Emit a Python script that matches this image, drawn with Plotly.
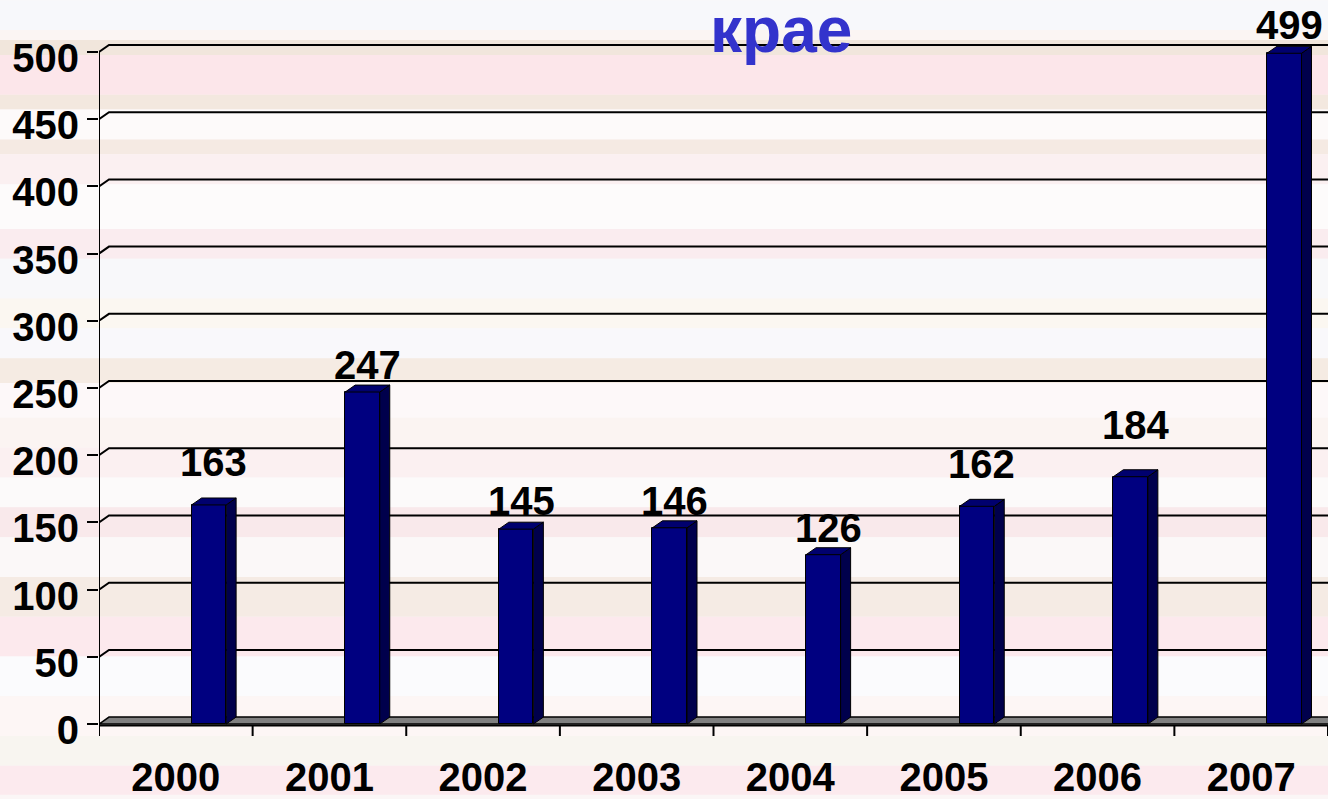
import plotly.graph_objects as go

# data
years = ["2000", "2001", "2002", "2003", "2004", "2005", "2006", "2007"]
values = [163, 247, 145, 146, 126, 162, 184, 499]
y_ticks = [0, 50, 100, 150, 200, 250, 300, 350, 400, 450, 500]
title_text = "крае"

# label lift above each bar's front top, px (labels sit unevenly in the original)
label_lift = [40, 24, 25, 24, 24, 39, 49, 25]

# geometry (pixels -> data units)
W, H = 1328, 799
M_L, M_T, M_B = 99, 40, 59
PX_X = (W - M_L) / 8.0          # px per category
PX_Y = 676 / 500.0              # px per value unit
Y0_PX = 728                     # pixel row of value 0
Y_LO = -(H - M_B - Y0_PX) / PX_Y
Y_HI = (Y0_PX - M_T) / PX_Y
DX = 10 / PX_X                  # 3d depth, x
DY = 7 / PX_Y                   # 3d depth, y
BAR_SHIFT = 0.215
BAR_W = 0.225

NAVY = "#000080"
SIDE = "#00004c"
TOP = "#00006e"
FONT = "Arial, Liberation Sans, sans-serif"

fig = go.Figure()

# front faces
fig.add_trace(go.Bar(
    x=[i + BAR_SHIFT for i in range(len(values))],
    y=values,
    width=BAR_W,
    marker=dict(color=NAVY, line=dict(color="black", width=1)),
    hoverinfo="skip",
    showlegend=False,
))

# side and top faces of the columns
sx, sy, tx, ty = [], [], [], []
for i, v in enumerate(values):
    x0 = i + BAR_SHIFT - BAR_W / 2
    x1 = i + BAR_SHIFT + BAR_W / 2
    sx += [x1, x1 + DX, x1 + DX, x1, x1, None]
    sy += [0, DY, v + DY, v, 0, None]
    tx += [x0, x0 + DX, x1 + DX, x1, x0, None]
    ty += [v, v + DY, v + DY, v, v, None]
fig.add_trace(go.Scatter(x=sx, y=sy, mode="lines", fill="toself", fillcolor=SIDE,
                         line=dict(color="black", width=1), hoverinfo="skip", showlegend=False))
fig.add_trace(go.Scatter(x=tx, y=ty, mode="lines", fill="toself", fillcolor=TOP,
                         line=dict(color="black", width=1), hoverinfo="skip", showlegend=False))

shapes = []

# striped background (pixel rows, colour)
stripes = [
    (0, 30, "#f7f8fb"), (30, 40, "#fbf5f3"), (40, 55, "#f1e6dc"), (55, 95, "#fce6ea"),
    (95, 110, "#f3e8df"), (110, 140, "#fdfafa"), (140, 155, "#f5eae3"), (155, 185, "#fbf0f1"),
    (185, 230, "#fdfbfb"), (230, 260, "#faecef"), (260, 300, "#f8f8fa"), (300, 330, "#fbf7f1"),
    (330, 360, "#f9f8fb"), (360, 385, "#f5ebe3"), (385, 420, "#fdf8f9"), (420, 450, "#fbf4f2"),
    (450, 480, "#fbf0f1"), (480, 510, "#fcfafa"), (510, 540, "#f9e9eb"), (540, 580, "#fbf8f8"),
    (580, 620, "#f5ebe4"), (620, 660, "#fce9ed"), (660, 700, "#fbfbfd"), (700, 740, "#fdf6f5"),
    (740, 770, "#f8f5f0"), (770, 799, "#fceaee"),
]
plot_h = H - M_T - M_B
for a, b, c in stripes:
    shapes.append(dict(type="rect", xref="paper", yref="paper", layer="below",
                       x0=-0.1, x1=1.1,
                       y0=(H - M_B - b) / plot_h, y1=(H - M_B - a) / plot_h,
                       fillcolor=c, line=dict(width=0)))

# back-wall gridlines with the short diagonal from the axis
for v in y_ticks[1:]:
    shapes.append(dict(type="path", layer="below", xref="x", yref="y",
                       path=f"M -0.5,{v} L {-0.5 + DX},{v + DY} L 7.5,{v + DY}",
                       line=dict(color="black", width=2)))

# floor
shapes.append(dict(type="path", layer="below", xref="x", yref="y",
                   path=f"M -0.5,0 L {-0.5 + DX},{DY} L 7.6,{DY} L 7.6,0 Z",
                   fillcolor="#808080", line=dict(color="black", width=1.5)))

# axis lines and category boundary ticks
shapes.append(dict(type="line", xref="x", yref="y", x0=-0.5, x1=-0.5, y0=-9, y1=500,
                   line=dict(color="black", width=2)))
shapes.append(dict(type="line", xref="x", yref="y", x0=-0.5, x1=7.6, y0=-1, y1=-1,
                   line=dict(color="black", width=2)))
for k in range(1, len(years) + 1):
    shapes.append(dict(type="line", xref="x", yref="y", x0=k - 0.5, x1=k - 0.5, y0=-1, y1=-9,
                       line=dict(color="black", width=2)))

annotations = []
for i, v in enumerate(values):
    annotations.append(dict(x=i + BAR_SHIFT + DX / 2, y=v, xref="x", yref="y",
                            text=str(v), showarrow=False, yanchor="middle",
                            yshift=label_lift[i] + 3,
                            font=dict(family=FONT, size=40, color="black", weight="bold")))
annotations.append(dict(x=(781 - M_L) / (W - M_L), y=(H - M_B - 30) / plot_h,
                        xref="paper", yref="paper", text=title_text, showarrow=False,
                        yanchor="middle",
                        font=dict(family=FONT, size=64, color="#3333cc", weight="bold")))

fig.update_layout(
    width=W, height=H,
    margin=dict(l=M_L, r=0, t=M_T, b=M_B),
    paper_bgcolor="#fbf6f6",
    plot_bgcolor="rgba(0,0,0,0)",
    shapes=shapes,
    annotations=annotations,
    showlegend=False,
    bargap=0,
    xaxis=dict(range=[-0.5, 7.5], tickvals=list(range(len(years))), ticktext=years,
               showgrid=False, zeroline=False, showline=False, ticks="",
               ticklabelstandoff=14,
               tickfont=dict(family=FONT, size=40, color="black", weight="bold")),
    yaxis=dict(range=[Y_LO, Y_HI], tickvals=y_ticks, showgrid=False, zeroline=False,
               showline=False, ticks="outside", ticklen=11, tickwidth=2, tickcolor="black",
               ticklabelshift=6,
               tickfont=dict(family=FONT, size=40, color="black", weight="bold")),
)

# drop the page's default body margin so the figure fills the window
fig.write_html("out.html", config={"displayModeBar": False},
               post_script="document.body.style.margin='0';")
